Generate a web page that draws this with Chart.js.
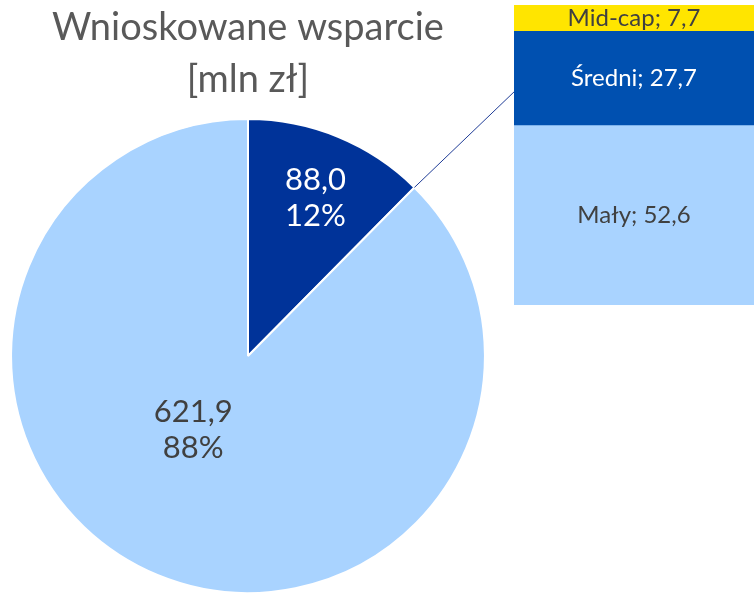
<!DOCTYPE html>
<html>
<head>
<meta charset="utf-8">
<script src="https://cdn.jsdelivr.net/npm/chart.js@4.4.1/dist/chart.umd.min.js"></script>
<style>
  html, body { margin: 0; padding: 0; background: #fff; }
  #wrap { position: relative; width: 754px; height: 595px; overflow: hidden; }
  #pie { position: absolute; left: 0; top: 0; }
  #bar { position: absolute; left: 514px; top: 5px; }
</style>
</head>
<body>
<div id="wrap">
  <canvas id="pie" width="754" height="595"></canvas>
  <canvas id="bar" width="240" height="300"></canvas>
</div>
<script>
// data
const pieCategories = ['MŚP i Mid-cap', 'Pozostałe'];
const pieValues = [88.0, 621.9];
const barCategories = ['Mały', 'Średni', 'Mid-cap'];   // bottom -> top
const barValues = [52.6, 27.7, 7.7];

const FONT = 'Lato, "Open Sans", sans-serif';
const pieColors = ['#003399', '#A9D3FF'];
const pieTextColors = ['#ffffff', '#404040'];
const barColors = ['#A9D3FF', '#0050B0', '#FFE500'];
const barTextColors = ['#404040', '#ffffff', '#404040'];

// label placement inside the slices (angle shift in deg, fraction of radius)
const pieLabelShift = [1, 14];
const pieLabelDist = [0.72, 0.39];

function fmt(v) { return v.toFixed(1).replace('.', ','); }

const pieTotal = pieValues.reduce((a, b) => a + b, 0);
const barTotal = barValues.reduce((a, b) => a + b, 0);

const pieLabelsPlugin = {
  id: 'pieLabels',
  afterDatasetsDraw(chart) {
    const ctx = chart.ctx;
    const meta = chart.getDatasetMeta(0);
    ctx.save();
    ctx.font = '31px ' + FONT;
    ctx.textAlign = 'center';
    ctx.textBaseline = 'middle';
    meta.data.forEach((arc, i) => {
      const p = arc.getProps(['x', 'y', 'startAngle', 'endAngle', 'outerRadius'], true);
      const a = (p.startAngle + p.endAngle) / 2 + pieLabelShift[i] * Math.PI / 180;
      const r = p.outerRadius * pieLabelDist[i];
      const cx = p.x + Math.cos(a) * r;
      const cy = p.y + Math.sin(a) * r;
      ctx.fillStyle = pieTextColors[i];
      ctx.fillText(fmt(pieValues[i]), cx, cy - 19);
      ctx.fillText(Math.round(pieValues[i] / pieTotal * 100) + '%', cx, cy + 17);
    });
    // series line from the small slice to the bar
    const first = meta.data[0].getProps(['x', 'y', 'endAngle', 'outerRadius'], true);
    ctx.strokeStyle = '#1F3C96';
    ctx.lineWidth = 1;
    ctx.beginPath();
    ctx.moveTo(first.x + Math.cos(first.endAngle) * first.outerRadius,
               first.y + Math.sin(first.endAngle) * first.outerRadius);
    ctx.lineTo(516, 90);
    ctx.stroke();
    ctx.restore();
  }
};

new Chart(document.getElementById('pie'), {
  type: 'pie',
  data: {
    labels: pieCategories,
    datasets: [{
      data: pieValues,
      backgroundColor: pieColors,
      borderColor: '#ffffff',
      borderWidth: 2
    }]
  },
  options: {
    responsive: false,
    animation: false,
    layout: { padding: { left: 10, right: 268, top: 0, bottom: 1 } },
    plugins: {
      legend: { display: false },
      tooltip: { enabled: false },
      title: {
        display: true,
        text: ['Wnioskowane wsparcie', '[mln zł]'],
        fullSize: false,
        color: '#595959',
        font: { family: FONT, size: 38, weight: 'normal', lineHeight: 1.37 },
        padding: { top: 2, bottom: 12 }
      }
    }
  },
  plugins: [pieLabelsPlugin]
});

const barLabelsPlugin = {
  id: 'barLabels',
  afterDatasetsDraw(chart) {
    const ctx = chart.ctx;
    ctx.save();
    ctx.font = '24px ' + FONT;
    ctx.textAlign = 'center';
    ctx.textBaseline = 'middle';
    chart.data.datasets.forEach((ds, i) => {
      const bar = chart.getDatasetMeta(i).data[0];
      const p = bar.getProps(['x', 'y', 'base'], true);
      ctx.fillStyle = barTextColors[i];
      ctx.fillText(barCategories[i] + '; ' + fmt(barValues[i]), p.x, (p.y + p.base) / 2);
    });
    ctx.restore();
  }
};

new Chart(document.getElementById('bar'), {
  type: 'bar',
  data: {
    labels: ['Wsparcie'],
    datasets: barCategories.map((name, i) => ({
      label: name,
      data: [barValues[i]],
      backgroundColor: barColors[i],
      borderWidth: 0,
      barPercentage: 1,
      categoryPercentage: 1
    }))
  },
  options: {
    responsive: false,
    animation: false,
    layout: { padding: 0 },
    scales: {
      x: { stacked: true, display: false },
      y: { stacked: true, display: false, min: 0, max: barTotal }
    },
    plugins: {
      legend: { display: false },
      tooltip: { enabled: false }
    }
  },
  plugins: [barLabelsPlugin]
});
</script>
</body>
</html>
